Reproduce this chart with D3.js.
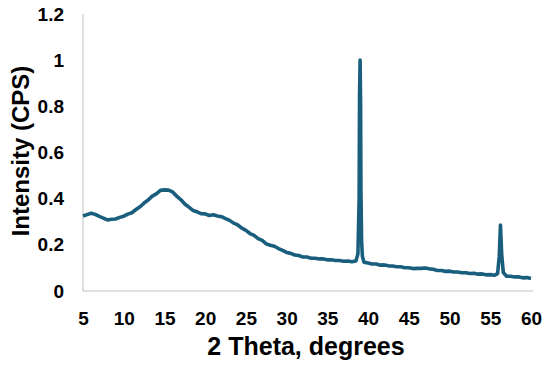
<!DOCTYPE html>
<html><head><meta charset="utf-8">
<script src="https://cdn.jsdelivr.net/npm/d3@7"></script>
<style>body{margin:0;background:#fff;} text{font-family:"Liberation Sans",Arial,sans-serif;font-weight:bold;fill:#000;}</style>
</head><body>
<svg id="c" width="550" height="367"></svg>
<script>
const xTicks = [5,10,15,20,25,30,35,40,45,50,55,60];
const yTicks = [0,0.2,0.4,0.6,0.8,1,1.2];
const yTickLabels = ["0","0.2","0.4","0.6","0.8","1","1.2"];
const twoTheta = [5.0,5.5,6.0,6.5,7.0,7.5,8.0,8.5,9.0,9.5,10.0,10.5,11.0,11.5,12.0,12.5,13.0,13.5,14.0,14.5,15.0,15.5,16.0,16.5,17.0,17.5,18.0,18.5,19.0,19.5,20.0,20.5,21.0,21.5,22.0,22.5,23.0,23.5,24.0,24.5,25.0,25.5,26.0,26.5,27.0,27.5,28.0,28.5,29.0,29.5,30.0,30.5,31.0,31.5,32.0,32.5,33.0,33.5,34.0,34.5,35.0,35.5,36.0,36.5,37.0,37.5,38.0,38.5,38.75,38.9,38.95,39.02,39.08,39.12,39.2,39.3,39.5,40.0,40.5,41.0,41.5,42.0,42.5,43.0,43.5,44.0,44.5,45.0,45.5,46.0,46.5,47.0,47.5,48.0,48.5,49.0,49.5,50.0,50.5,51.0,51.5,52.0,52.5,53.0,53.5,54.0,54.5,55.0,55.5,55.9,56.1,56.25,56.4,56.6,57.0,57.5,58.0,58.5,59.0,59.5,60.0];
const intensity = [0.325,0.331,0.337,0.332,0.323,0.316,0.308,0.311,0.312,0.319,0.324,0.333,0.339,0.353,0.365,0.381,0.394,0.411,0.421,0.436,0.438,0.437,0.429,0.411,0.396,0.377,0.363,0.349,0.343,0.335,0.334,0.327,0.330,0.325,0.322,0.314,0.306,0.294,0.286,0.272,0.263,0.249,0.241,0.227,0.219,0.204,0.198,0.194,0.184,0.176,0.167,0.163,0.156,0.154,0.147,0.147,0.142,0.142,0.139,0.139,0.135,0.135,0.132,0.132,0.129,0.130,0.127,0.130,0.160,0.400,0.840,1.000,0.800,0.440,0.220,0.150,0.125,0.121,0.117,0.117,0.112,0.113,0.109,0.108,0.105,0.105,0.101,0.101,0.097,0.098,0.098,0.100,0.096,0.094,0.089,0.089,0.085,0.086,0.082,0.082,0.079,0.079,0.076,0.077,0.073,0.074,0.070,0.071,0.068,0.075,0.150,0.286,0.160,0.080,0.064,0.064,0.061,0.061,0.057,0.058,0.054];

const svg = d3.select("#c");
const x = d3.scaleLinear().domain([5,60]).range([83,531]);
const y = d3.scaleLinear().domain([0,1.2]).range([291,14]);

svg.append("line").attr("x1",83).attr("x2",83).attr("y1",y(1.2)).attr("y2",y(0)).attr("stroke","#bfbfbf").attr("stroke-width",1);
svg.append("line").attr("x1",83).attr("x2",533).attr("y1",y(0)).attr("y2",y(0)).attr("stroke","#bfbfbf").attr("stroke-width",1);

const xAxis = d3.axisBottom(x).tickValues(xTicks).tickSize(0).tickPadding(0).tickFormat(d3.format("d"));
const gx = svg.append("g").attr("transform","translate(0,311)").call(xAxis);
gx.select(".domain").remove();
gx.selectAll("text").attr("dy","0.71em").style("font-size","19px").style("font-family","Liberation Sans, Arial, sans-serif").style("font-weight","bold").attr("fill","#000");

const yAxis = d3.axisLeft(y).tickValues(yTicks).tickSize(0).tickPadding(0).tickFormat((d,i)=>yTickLabels[i]);
const gy = svg.append("g").attr("transform","translate(64,0)").call(yAxis);
gy.select(".domain").remove();
gy.selectAll("text").style("font-size","19px").style("font-family","Liberation Sans, Arial, sans-serif").style("font-weight","bold").attr("fill","#000");

const data = twoTheta.map((t,i)=>[t,intensity[i]]);
svg.append("path").datum(data)
  .attr("d", d3.line().x(d=>x(d[0])).y(d=>y(d[1])))
  .attr("fill","none").attr("stroke","#1a5e7e").attr("stroke-width",3.6).attr("stroke-linejoin","round");

svg.append("text").attr("x",306).attr("y",355).attr("text-anchor","middle").style("font-size","25px").text("2 Theta, degrees");
svg.append("text").attr("transform","translate(29,151) rotate(-90)").attr("text-anchor","middle").style("font-size","24px").text("Intensity (CPS)");
</script>
</body></html>
